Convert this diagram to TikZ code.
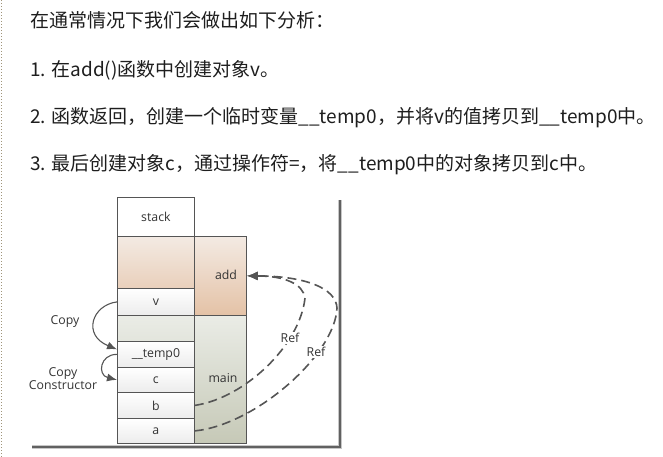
\documentclass[tikz,border=0pt]{standalone}
\usepackage{fontspec}
\newfontfamily\cjk{Noto Sans CJK SC}
\newfontfamily\diagfont{Open Sans}
\usetikzlibrary{arrows.meta,positioning}
\definecolor{texta}{HTML}{1E1E1E}
\definecolor{linea}{HTML}{555555}
\definecolor{addtop}{HTML}{F3EAE3}
\definecolor{addbot}{HTML}{E4C2A6}
\definecolor{maintop}{HTML}{EAECE6}
\definecolor{mainbot}{HTML}{C6C9B7}
\definecolor{cellbot}{HTML}{ECECEC}
\definecolor{dota}{HTML}{A0957A}
\tikzset{para/.style={anchor=west,inner sep=0pt,text=texta,font=\cjk\fontsize{19}{22}\selectfont},cell/.style={draw=linea,line width=0.8pt,anchor=north west,inner sep=0pt,minimum width=77pt,top color=white,bottom color=cellbot,text=black!80,font=\diagfont\fontsize{12.3}{14}\selectfont},region/.style={draw=linea,line width=0.8pt,anchor=north west,inner sep=0pt,minimum width=129pt},lbl/.style={text=black!80,font=\diagfont\fontsize{12.3}{14}\selectfont,align=center,inner sep=1pt},copyarrow/.style={-{Latex[length=10pt,width=8pt]},line width=1.1pt,draw=linea},refarrow/.style={-{Latex[length=11pt,width=9pt]},line width=1.6pt,draw=linea,dash pattern=on 9pt off 5pt}}

\begin{document}
\begin{tikzpicture}[x=1pt,y=-1pt]
\useasboundingbox (0,0) rectangle (663,457);
\draw[dota,line width=1pt,dotted] (1.5,0) -- (1.5,457);
% text above the picture
\node[para] (line1) at (30,20) {在通常情况下我们会做出如下分析：};
\node[para] (line2) at (30,70) {1. 在add()函数中创建对象v。};
\node[para] (line3) at (30,118) {2. 函数返回，创建一个临时变量\_\_temp0，并将v的值拷贝到\_\_temp0中。};
\node[para] (line4) at (30,165) {3. 最后创建对象c，通过操作符=，将\_\_temp0中的对象拷贝到c中。};
% picture frame shadow
\draw[black!22,line width=3.5pt] (32,447) -- (340,447) -- (340,200);
\draw[black!62,line width=1.6pt] (32,447) -- (340,447) -- (340,200);
% stack frames
\node[region,top color=addtop,bottom color=addbot,minimum height=79pt] (addreg) at (117,236) {};
\node[region,top color=maintop,bottom color=mainbot,minimum height=128pt] (mainreg) at (117,315) {};
\node[cell,top color=white,bottom color=white,minimum height=39pt] (stack) at (117,197) {stack};
\node[cell,minimum height=27pt] (v) at (117,288) {v};
\node[cell,minimum height=26pt] (temp0) at (117,341) {\_\_temp0};
\node[cell,minimum height=25pt] (c) at (117,367) {c};
\node[cell,minimum height=26pt] (b) at (117,392) {b};
\node[cell,minimum height=25pt] (a) at (117,418) {a};
\draw[linea,line width=0.8pt] (stack.south east) -- (mainreg.south -| stack.east);
\node[lbl] (addlbl) at (226,275) {add};
\node[lbl] (mainlbl) at (223,378) {main};
% copies
\draw[copyarrow] (v.west) .. controls (92,305) and (82,335) .. ([yshift=5pt]temp0.west);
\draw[copyarrow] (temp0.west) .. controls (100,354) and (97,375) .. (c.west);
\node[lbl] (copylbl) at (65,322) {Copy};
\node[lbl,text depth=0pt] (ctorlbl) at (63,379) {Copy\\[-1pt]Constructor};
% references
\draw[refarrow] (b.east) .. controls (245,398) and (300,345) .. (305,298) .. controls (303,284) and (285,276) .. (addreg.east);
\draw[refarrow] (a.east) .. controls (255,425) and (335,355) .. (337,308) .. controls (336,288) and (305,276) .. (addreg.east);
\node[lbl,fill=white] (ref1) at (290,338) {Ref};
\node[lbl,fill=white] (ref2) at (316,352) {Ref};
\end{tikzpicture}
\end{document}
